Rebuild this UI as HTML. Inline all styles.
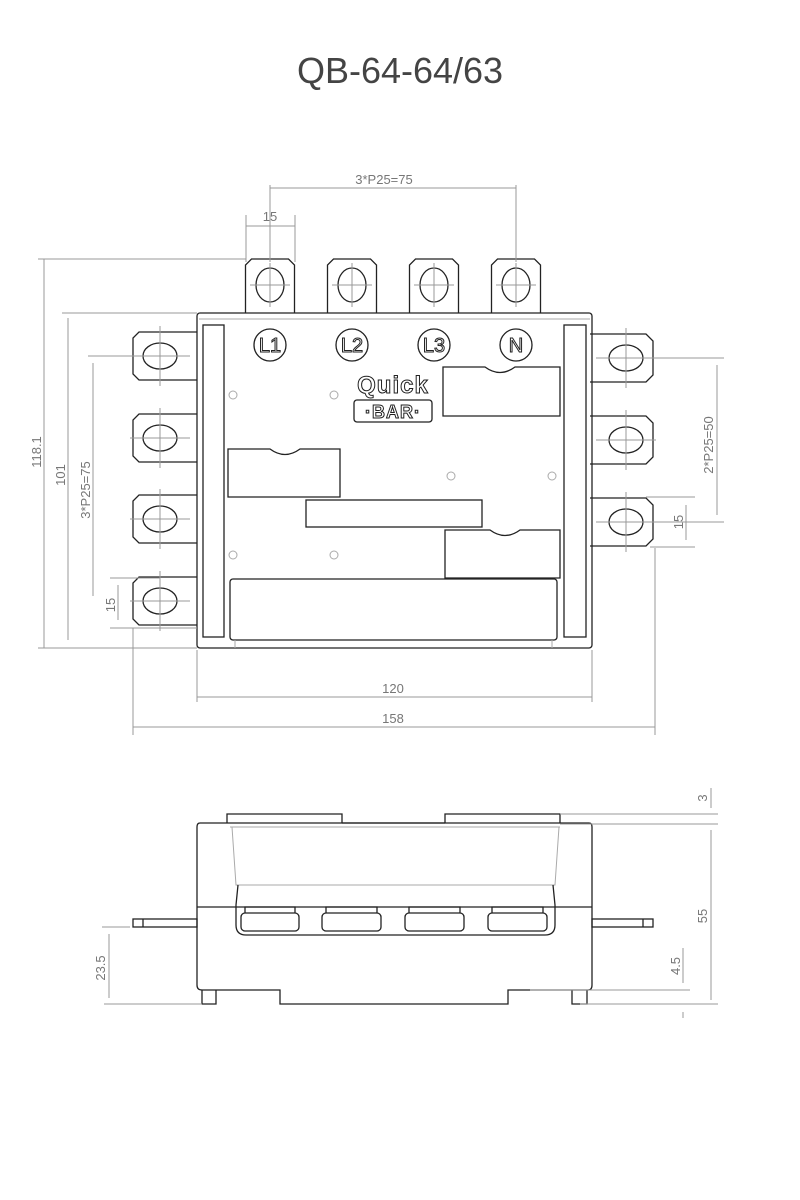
<!DOCTYPE html>
<html><head><meta charset="utf-8"><style>
html,body{margin:0;padding:0;background:#fff;}
svg{display:block}
.d{stroke:#999;stroke-width:1;fill:none}
.k{stroke:#222;stroke-width:1.3;fill:none}
.g{stroke:#aaa;stroke-width:1;fill:none}
.t{font-family:"Liberation Sans",sans-serif;font-size:13px;fill:#777}
</style></head><body>
<svg width="800" height="1200" viewBox="0 0 800 1200" xmlns="http://www.w3.org/2000/svg">
<text x="400" y="83" text-anchor="middle" font-family="Liberation Sans,sans-serif" font-size="36" fill="#444">QB-64-64/63</text>
<defs>
<g id="tl"><path class="k" d="M-24.5,0 V-48 L-18.5,-54 H18.5 L24.5,-48 V0"/><ellipse class="k" cx="0" cy="-28" rx="14" ry="17"/><path class="d" d="M-20,-28 H20 M0,-50 V-6"/></g>
<g id="ll"><path class="k" d="M37,-24 H-21 L-27,-18 V18 L-21,24 H37"/><ellipse class="k" cx="0" cy="0" rx="17" ry="13"/><path class="d" d="M-30,0 H30 M0,-30 V30"/></g>
<g id="rl"><path class="k" d="M-36,-24 H20 L27,-17 V17 L20,24 H-36"/><ellipse class="k" cx="0" cy="0" rx="17" ry="13"/><path class="d" d="M-30,0 H30 M0,-30 V30"/></g>
</defs>
<use href="#tl" x="270" y="313"/><use href="#tl" x="352" y="313"/><use href="#tl" x="434" y="313"/><use href="#tl" x="516" y="313"/>
<use href="#ll" x="160" y="356"/><use href="#ll" x="160" y="438"/><use href="#ll" x="160" y="519"/><use href="#ll" x="160" y="601"/>
<use href="#rl" x="626" y="358"/><use href="#rl" x="626" y="440"/><use href="#rl" x="626" y="522"/>
<rect class="k" x="197" y="313" width="395" height="335" rx="3"/>
<line class="g" x1="199" y1="319" x2="590" y2="319"/>
<rect class="k" x="203" y="325" width="21" height="312"/>
<rect class="k" x="564" y="325" width="22" height="312"/>
<g class="k">
<circle cx="270" cy="345" r="16"/><circle cx="352" cy="345" r="16"/><circle cx="434" cy="345" r="16"/><circle cx="516" cy="345" r="16"/>
</g>
<g font-family="Liberation Sans,sans-serif" font-size="20" fill="#fff" stroke="#222" stroke-width="1" text-anchor="middle">
<text x="270" y="352">L1</text><text x="352" y="352">L2</text><text x="434" y="352">L3</text><text x="516" y="352">N</text>
<text x="393" y="393" font-weight="bold" font-size="24" letter-spacing="1">Quick</text>
</g>
<rect class="k" x="354" y="400" width="78" height="22" rx="3"/>
<text x="393" y="418" text-anchor="middle" font-family="Liberation Sans,sans-serif" font-weight="bold" font-size="18" letter-spacing="1" fill="#fff" stroke="#222" stroke-width="1">·BAR·</text>
<g class="g" stroke="#bbb" stroke-width="1.5">
<circle cx="233" cy="395" r="4"/><circle cx="334" cy="395" r="4"/><circle cx="451" cy="476" r="4"/><circle cx="552" cy="476" r="4"/><circle cx="233" cy="555" r="4"/><circle cx="334" cy="555" r="4"/>
</g>
<path class="k" d="M443,367 H485 Q500,378 515,367 H560 V416 H443 Z"/>
<path class="k" d="M228,449 H270 Q285,460 300,449 H340 V497 H228 Z"/>
<rect class="k" x="306" y="500" width="176" height="27"/>
<path class="k" d="M445,530 H490 Q505,541 520,530 H560 V578 H445 Z"/>
<rect class="k" x="230" y="579" width="327" height="61" rx="3"/>
<path class="g" d="M235,640 V648 M552,640 V648"/>
<path class="d" d="M270,185 V262 M516,185 V262 M270,188 H516 M246,215 V262 M295,215 V262 M246,226 H295"/>
<text class="t" x="384" y="184" text-anchor="middle">3*P25=75</text>
<text class="t" x="270" y="221" text-anchor="middle">15</text>
<path class="d" d="M38,259 H246 M62,313 H197 M88,356 H160 M110,578 H160 M110,628 H197 M38,648 H197 M44,259 V648 M68,318 V640 M93,363 V596 M118,585 V620"/>
<text class="t" transform="translate(41,452) rotate(-90)" text-anchor="middle">118.1</text>
<text class="t" transform="translate(65,475) rotate(-90)" text-anchor="middle">101</text>
<text class="t" transform="translate(90,490) rotate(-90)" text-anchor="middle">3*P25=75</text>
<text class="t" transform="translate(115,605) rotate(-90)" text-anchor="middle">15</text>
<path class="d" d="M655,358 H724 M717,365 V515 M645,522 H724 M646,497 H695 M686,505 V540 M650,547 H695"/>
<text class="t" transform="translate(713,445) rotate(-90)" text-anchor="middle">2*P25=50</text>
<text class="t" transform="translate(683,522) rotate(-90)" text-anchor="middle">15</text>
<path class="d" d="M197,650 V702 M592,650 V702 M197,697 H592 M133,628 V735 M655,548 V735 M133,727 H655"/>
<text class="t" x="393" y="693" text-anchor="middle">120</text>
<text class="t" x="393" y="723" text-anchor="middle">158</text>
<rect class="k" x="133" y="919" width="64" height="8"/><line class="k" x1="143" y1="919" x2="143" y2="927"/>
<rect class="k" x="592" y="919" width="61" height="8"/><line class="k" x1="643" y1="919" x2="643" y2="927"/>
<path class="k" d="M227,823 V814 H342 V823 M445,823 V814 H560 V823 M342,823 H445"/>
<path class="k" d="M200,823 H589 Q592,823 592,827 V985 Q592,990 588,990 H508 V1004 H280 V990 H202 Q197,990 197,985 V827 Q197,823 200,823 Z"/>
<path class="k" d="M202,990 V1004 H216 V990 M572,990 V1004 H587 V990"/>
<line class="k" x1="197" y1="907" x2="592" y2="907"/>
<path class="g" d="M232,827 L236,885 L555,885 L559,827 M230,827 H560"/>
<path class="k" d="M238,885 L236,905 V925 Q236,935 246,935 H545 Q555,935 555,925 V905 L553,885"/>
<g class="k">
<rect x="241" y="913" width="58" height="18" rx="4"/><rect x="322" y="913" width="59" height="18" rx="4"/><rect x="405" y="913" width="59" height="18" rx="4"/><rect x="488" y="913" width="59" height="18" rx="4"/>
<path d="M245,913 V907 H295 V913 M326,913 V907 H377 V913 M409,913 V907 H460 V913 M492,913 V907 H543 V913"/>
</g>
<path class="d" d="M560,814 H718 M560,824 H718 M711,788 V808 M711,830 V1000 M530,990 H690 M683,948 V983 M580,1004 H718 M683,1012 V1018 M104,1004 H202 M102,927 H130 M109,934 V998"/>
<text class="t" transform="translate(707,798) rotate(-90)" text-anchor="middle">3</text>
<text class="t" transform="translate(707,916) rotate(-90)" text-anchor="middle">55</text>
<text class="t" transform="translate(680,966) rotate(-90)" text-anchor="middle">4.5</text>
<text class="t" transform="translate(105,968) rotate(-90)" text-anchor="middle">23.5</text>
</svg>
</body></html>
